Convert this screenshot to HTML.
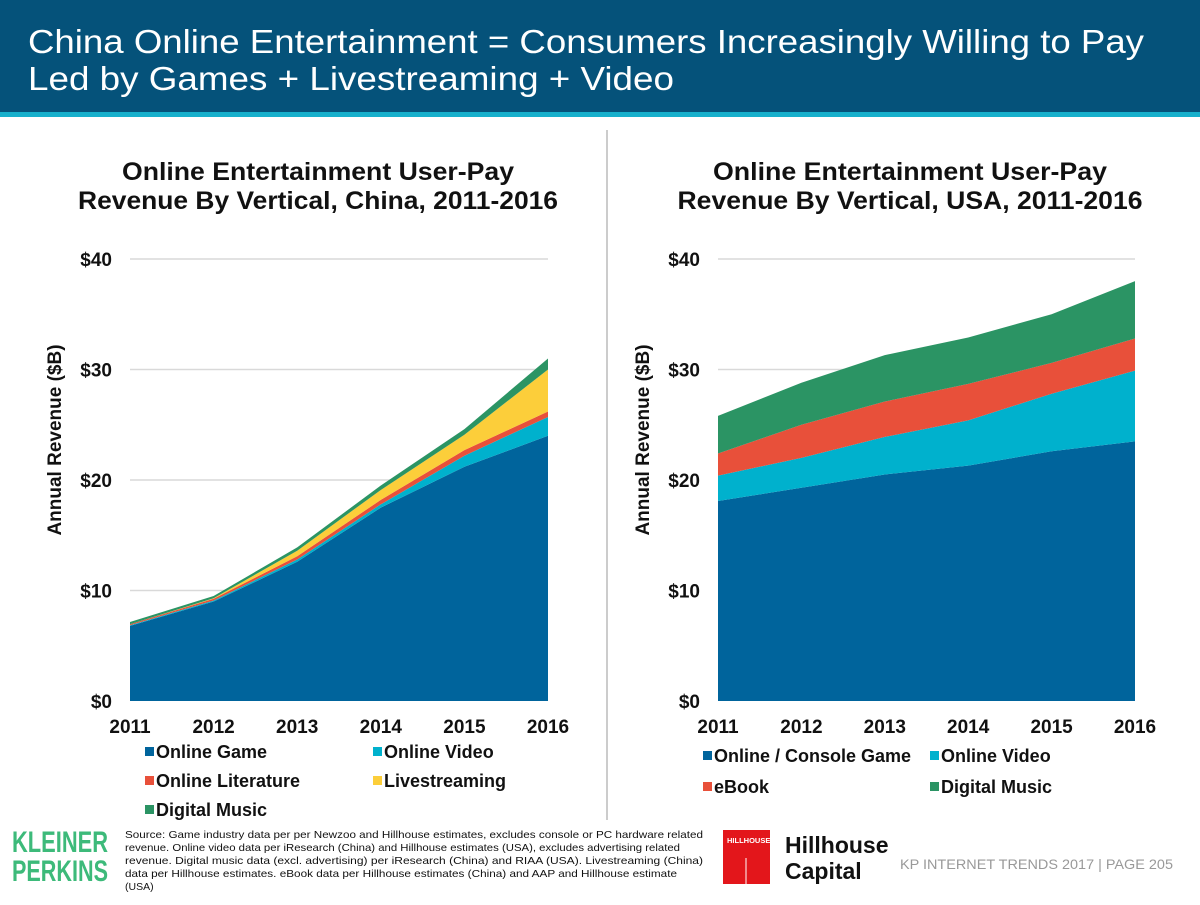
<!DOCTYPE html>
<html><head><meta charset="utf-8"><style>
body{margin:0;width:1200px;height:900px;overflow:hidden;background:#fff;font-family:"Liberation Sans",Arial,sans-serif}
svg text{font-family:"Liberation Sans",Arial,sans-serif}
</style></head><body>
<svg id="s" width="1200" height="900" viewBox="0 0 1200 900" xmlns="http://www.w3.org/2000/svg">
<rect x="0" y="0" width="1200" height="112" fill="#05527a"/>
<rect x="0" y="112" width="1200" height="5" fill="#17b0cc"/>
<text x="28" y="53" font-size="33" fill="#fff" textLength="1116" lengthAdjust="spacingAndGlyphs">China Online Entertainment = Consumers Increasingly Willing to Pay</text>
<text x="28" y="90" font-size="33" fill="#fff" textLength="646" lengthAdjust="spacingAndGlyphs">Led by Games + Livestreaming + Video</text>
<line x1="607" y1="130" x2="607" y2="820" stroke="#ccc" stroke-width="2"/>
<g id="charts"></g>
<text x="12" y="852" font-size="30" font-weight="bold" fill="#3dba7a" textLength="96" lengthAdjust="spacingAndGlyphs">KLEINER</text>
<text x="12" y="881" font-size="30" font-weight="bold" fill="#3dba7a" textLength="96" lengthAdjust="spacingAndGlyphs">PERKINS</text>
<g font-size="10.5" fill="#111">
<text x="125" y="838" textLength="578" lengthAdjust="spacingAndGlyphs">Source: Game industry data per per Newzoo and Hillhouse estimates, excludes console or PC hardware related</text>
<text x="125" y="851" textLength="555" lengthAdjust="spacingAndGlyphs">revenue. Online video data per iResearch (China) and Hillhouse estimates (USA), excludes advertising related</text>
<text x="125" y="864" textLength="578" lengthAdjust="spacingAndGlyphs">revenue. Digital music data (excl. advertising) per iResearch (China) and RIAA (USA). Livestreaming (China)</text>
<text x="125" y="877" textLength="552" lengthAdjust="spacingAndGlyphs">data per Hillhouse estimates. eBook data per Hillhouse estimates (China) and AAP  and Hillhouse estimate</text>
<text x="125" y="890">(USA)</text>
</g>
<rect x="723" y="830" width="47" height="54" fill="#e3161b"/>
<text x="727" y="843" font-size="7.5" font-weight="bold" fill="#fff">HILLHOUSE</text>
<line x1="746" y1="858" x2="746" y2="884" stroke="#fff" stroke-width="1"/>
<text x="785" y="853" font-size="23" font-weight="bold" fill="#111">Hillhouse</text>
<text x="785" y="879" font-size="23" font-weight="bold" fill="#111">Capital</text>
<text x="900" y="869" font-size="14" fill="#999" textLength="273" lengthAdjust="spacingAndGlyphs">KP INTERNET TRENDS 2017  |  PAGE 205</text>
</svg>
<script>
const years = ['2011','2012','2013','2014','2015','2016'];
const yTicks = [0,10,20,30,40];
const yTickLabels = ['$0','$10','$20','$30','$40'];
// China
const cnGame = [6.8,9.0,12.6,17.5,21.2,24.0];
const cnVideo = [0.05,0.1,0.2,0.3,1.0,1.7];
const cnLit = [0.1,0.15,0.3,0.4,0.5,0.5];
const cnLive = [0,0.05,0.5,0.9,1.4,3.8];
const cnMusic = [0.2,0.2,0.3,0.4,0.5,1.0];
// USA
const usGame = [18.1,19.3,20.5,21.3,22.6,23.5];
const usVideo = [2.3,2.7,3.4,4.1,5.2,6.4];
const usEbook = [2.0,3.0,3.2,3.3,2.8,2.9];
const usMusic = [3.4,3.8,4.2,4.2,4.4,5.2];

const NS='http://www.w3.org/2000/svg';
const root=document.getElementById('charts');
function mk(tag,attrs,parent){const e=document.createElementNS(NS,tag);for(const k in attrs)e.setAttribute(k,attrs[k]);(parent||root).appendChild(e);return e;}
function yScale(v){return 701-v*11.05;}

function chart(x0,x1,titleCx,title1,title2,tl1,tl2,series,legend,prefix){
  const g=mk('g',{});
  
  
  const xs=i=>x0+i*(x1-x0)/(years.length-1);
  const t1=mk('text',{x:titleCx,y:180,'font-size':25,'font-weight':'bold','text-anchor':'middle',fill:'#111',textLength:tl1,lengthAdjust:'spacingAndGlyphs'},g);t1.textContent=title1;
  
  
  const t2=mk('text',{x:titleCx,y:209,'font-size':25,'font-weight':'bold','text-anchor':'middle',fill:'#111',textLength:tl2,lengthAdjust:'spacingAndGlyphs'},g);t2.textContent=title2;
  yTicks.forEach((v,i)=>{
    if(v>0){const l=mk('line',{x1:x0,x2:x1,y1:yScale(v),y2:yScale(v),stroke:'#d9d9d9','stroke-width':1.5},g);
      
      }
    const t=mk('text',{x:x0-18,y:yScale(v)+7,'font-size':19,'font-weight':'bold','text-anchor':'end',fill:'#111'},g);
    t.textContent=yTickLabels[i];
    
    
  });
  const at=mk('text',{transform:`translate(${x0-69},440) rotate(-90)`,'font-size':19,'font-weight':'bold','text-anchor':'middle',fill:'#111'},g);
  at.textContent='Annual Revenue ($B)';
  
  
  let base=years.map(()=>0);
  series.forEach(s=>{
    const top=base.map((b,i)=>b+s.vals[i]);
    let d='M'+years.map((_,i)=>xs(i)+','+yScale(top[i])).join(' L');
    for(let i=years.length-1;i>=0;i--)d+=' L'+xs(i)+','+yScale(base[i]);
    const p=mk('path',{d:d+'Z',fill:s.color},g);
    
    
    base=top;
  });
  years.forEach((y,i)=>{
    const t=mk('text',{x:xs(i),y:733,'font-size':19,'font-weight':'bold','text-anchor':'middle',fill:'#111'},g);
    t.textContent=y;
    
    
  });
  legend.forEach(l=>{
    const lg=mk('g',{},g);
    
    
    mk('rect',{x:l.x,y:l.y-11,width:9,height:9,fill:l.color},lg);
    const t=mk('text',{x:l.x+11,y:l.y,'font-size':18,'font-weight':'bold',fill:'#111'},lg);t.textContent=l.label;
  });
}
const C={game:'#00649c',video:'#00b1cd',lit:'#e8503a',live:'#fcce3a',music:'#2b9464'};
chart(130,548,318,'Online Entertainment User-Pay','Revenue By Vertical, China, 2011-2016',392,480,
 [{key:'online-game',vals:cnGame,color:C.game},{key:'online-video',vals:cnVideo,color:C.video},{key:'online-literature',vals:cnLit,color:C.lit},{key:'livestreaming',vals:cnLive,color:C.live},{key:'digital-music',vals:cnMusic,color:C.music}],
 [{x:145,y:758,label:'Online Game',color:C.game},{x:373,y:758,label:'Online Video',color:C.video},{x:145,y:787,label:'Online Literature',color:C.lit},{x:373,y:787,label:'Livestreaming',color:C.live},{x:145,y:816,label:'Digital Music',color:C.music}],'china');
chart(718,1135,910,'Online Entertainment User-Pay','Revenue By Vertical, USA, 2011-2016',394,465,
 [{key:'game',vals:usGame,color:C.game},{key:'online-video',vals:usVideo,color:C.video},{key:'ebook',vals:usEbook,color:C.lit},{key:'digital-music',vals:usMusic,color:C.music}],
 [{x:703,y:762,label:'Online / Console Game',color:C.game},{x:930,y:762,label:'Online Video',color:C.video},{x:703,y:793,label:'eBook',color:C.lit},{x:930,y:793,label:'Digital Music',color:C.music}],'usa');
</script>
</body></html>
